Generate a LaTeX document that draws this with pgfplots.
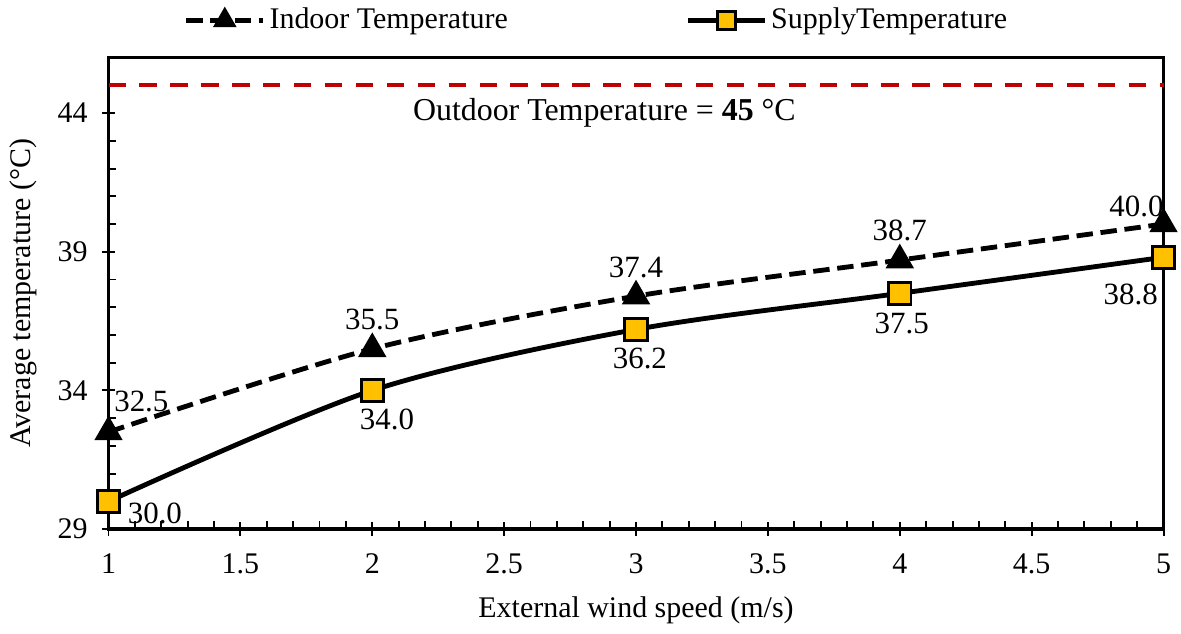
\documentclass[border=0pt]{standalone}
\usepackage{pgfplots}
\usepackage{pgfplotstable}
\pgfplotsset{compat=1.18}
\usepackage{fontspec}
\setmainfont{Liberation Serif}
\setsansfont{Liberation Serif}
\definecolor{gold}{RGB}{255,192,0}
\definecolor{dred}{RGB}{192,0,0}

\pgfplotstableread{
x y ox oy
1 32.5 17 16
2 35.5 0 15
3 37.4 0 15
4 38.7 0 15.5
5 40.0 -14 9
}\indoor
\pgfplotstableread{
x y ox oy
1 30.0 24 -6
2 34.0 7.6 -15
3 36.2 2 -15
4 37.5 1 -15.7
5 38.8 -17 -19
}\supply

\begin{document}
\rmfamily\fontsize{15.5}{18}\selectfont
\begin{tikzpicture}[font=\rmfamily]
\begin{axis}[
  scale only axis, width=546pt, height=244pt,
  xmin=1, xmax=5, ymin=29, ymax=46,
  xtick={1,1.5,...,5}, ytick={29,34,39,44},
  xtick pos=bottom, ytick pos=left,
  minor x tick num=4, minor y tick num=4,
  axis line style={line width=1.8pt},
  tick style={black, line width=1pt},
  tick align=center,
  major tick length=7pt, minor tick length=4pt,
  every minor x tick/.append style={yshift=2pt},
  every minor y tick/.append style={xshift=2pt},
  /pgf/number format/assume math mode=true,
  /pgf/number format/fixed,
  ticklabel style={font=\rmfamily\fontsize{15.5}{18}\selectfont},
  xticklabel style={yshift=-4pt},
  yticklabel style={xshift=-2pt},
  xlabel={External wind speed (m/s)},
  ylabel={Average temperature (°C)},
  xlabel style={yshift=-1pt},
  label style={font=\rmfamily\fontsize{15.5}{18}\selectfont},
  legend style={at={(0.5,1.035)}, anchor=south, xshift=-20pt, draw=none, fill=none,
    legend columns=2, font=\rmfamily\fontsize{15.5}{18}\selectfont,
    /tikz/every even column/.append style={column sep=90pt}},
  legend image code/.code={\draw[mark repeat=2,mark phase=2,mark size=4.6pt,#1] plot coordinates {(0cm,0cm) (0.7cm,0cm) (1.4cm,0cm)};},
  clip=false,
]
\addplot[dred, line width=2pt, dash pattern=on 9pt off 7pt, forget plot] coordinates {(1,45) (5,45)};
\node[font=\rmfamily\fontsize{16.5}{18}\selectfont] at (axis cs:2.88,44) {Outdoor Temperature = \textbf{45} °C};

\addplot[black, line width=2.5pt, dash pattern=on 8.5pt off 4pt, smooth,
  mark=triangle*, mark size=6pt, mark options={solid, fill=black},
  nodes near coords, point meta=explicit symbolic,
  visualization depends on={\thisrow{ox}\as\myox},
  visualization depends on={\thisrow{oy}\as\myoy},
  every node near coord/.append style={anchor=center, xshift=\myox pt, yshift=\myoy pt, font=\rmfamily\fontsize{16}{18}\selectfont, text=black}]
  table[x=x, y=y, meta=y] {\indoor};
\addlegendentry{Indoor Temperature}

\addplot[black, line width=2.5pt, smooth,
  mark=square*, mark size=5.8pt, mark options={solid, fill=gold, draw=black, line width=1.5pt},
  nodes near coords, point meta=explicit symbolic,
  visualization depends on={\thisrow{ox}\as\myox},
  visualization depends on={\thisrow{oy}\as\myoy},
  every node near coord/.append style={anchor=center, xshift=\myox pt, yshift=\myoy pt, font=\rmfamily\fontsize{16}{18}\selectfont, text=black}]
  table[x=x, y=y, meta=y] {\supply};
\addlegendentry{SupplyTemperature}
\end{axis}
\end{tikzpicture}
\end{document}
